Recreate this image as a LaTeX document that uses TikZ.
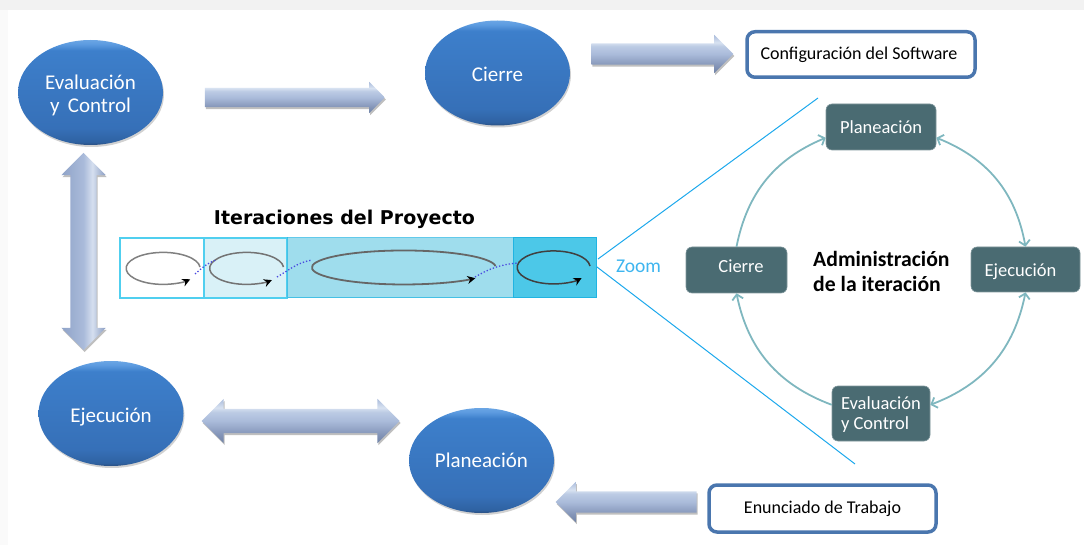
\documentclass[tikz,border=0pt]{standalone}
\usepackage{fontspec}
\setmainfont{Carlito}
\newfontfamily\titlefont{DejaVu Sans}
\usetikzlibrary{shapes.geometric,shapes.arrows,shadows,arrows.meta,calc}
\definecolor{tealbox}{HTML}{4A6B72}
\definecolor{ringc}{HTML}{7FB7BF}
\definecolor{framec}{HTML}{4A76AE}
\definecolor{zoomc}{HTML}{1CA8EC}
\definecolor{dotc}{HTML}{4A4AE0}
\definecolor{stripa}{HTML}{D9F1F7}
\definecolor{stripb}{HTML}{9FDDED}
\definecolor{stripc}{HTML}{4CC8E8}
\definecolor{stripl}{HTML}{50CFEF}
\definecolor{stripd}{HTML}{20B4E2}
\definecolor{ba}{HTML}{2A4F80}
\definecolor{bb}{HTML}{2F62A2}
\definecolor{bc}{HTML}{3670B8}
\definecolor{bd}{HTML}{3D7FCB}
\definecolor{be}{HTML}{5C9BE0}
\definecolor{bf}{HTML}{6AA5E4}
\definecolor{ca}{HTML}{6F82A6}
\definecolor{cb}{HTML}{8495B8}
\definecolor{cc}{HTML}{AABBDA}
\definecolor{cd}{HTML}{BCCBE4}
\definecolor{ce}{HTML}{D8E2F1}
\definecolor{cf}{HTML}{A9BBDB}
\definecolor{da}{HTML}{8FA3C8}
\definecolor{db}{HTML}{D5DFEF}
\definecolor{dc}{HTML}{8A9DC2}
\pgfdeclareverticalshading{ballshade}{100bp}{
 color(0bp)=(ba); color(25bp)=(ba); color(26.5bp)=(bb);
 color(33bp)=(bc); color(70bp)=(bd); color(73bp)=(be);
 color(75bp)=(bf); color(100bp)=(bf)}
\pgfdeclareverticalshading{barshade}{100bp}{
 color(0bp)=(ca); color(25bp)=(ca); color(35bp)=(cb);
 color(50bp)=(cc); color(60bp)=(cd); color(65bp)=(ce);
 color(75bp)=(cf); color(100bp)=(cf)}
\pgfdeclarehorizontalshading{postshade}{100bp}{
 color(0bp)=(da); color(25bp)=(da);
 color(50bp)=(cc); color(60bp)=(db);
 color(75bp)=(dc); color(100bp)=(dc)}
\tikzset{
 ball/.style={ellipse,shading=ballshade,draw=none,inner sep=0pt,
   minimum width=145,minimum height=105,text=white,align=center,
   font=\fontsize{21}{23}\selectfont,
   drop shadow={shadow xshift=1pt,shadow yshift=-2pt,fill=black,opacity=.18}},
 softshadow/.style={drop shadow={shadow xshift=1pt,shadow yshift=-2pt,fill=black,opacity=.25}},
 onearrow/.style={single arrow,draw=none,shading=barshade,inner sep=0pt,text height=#1,text depth=0pt,
   text width=0pt,softshadow},
 twoarrow/.style={double arrow,draw=none,inner sep=0pt,text height=#1,text depth=0pt,
   text width=0pt,softshadow},
 framebox/.style={draw=framec,line width=3.5pt,fill=white,rounded corners=8pt,
   font=\fontsize{18}{21}\selectfont,text=black,inner sep=0pt,
   drop shadow={shadow xshift=0.5pt,shadow yshift=-1.5pt,fill=black,opacity=.2}},
 tealnode/.style={fill=tealbox,draw=tealbox!70!white,line width=.6pt,rounded corners=6pt,text=white,inner sep=0pt,
   font=\fontsize{18.5}{20}\selectfont},
 ringline/.style={draw=ringc,line width=1.8pt},
 loopline/.style={line width=1.5pt},
 looptip/.style={-{Stealth[length=8pt,width=8pt,black]}},
 dotline/.style={draw=dotc,line width=1.3pt,dotted},
 zoomline/.style={draw=zoomc,line width=1pt},
}
\begin{document}
\begin{tikzpicture}[x=1pt,y=-1pt]
\useasboundingbox (0,0) rectangle (1084,545);
% page edge
\fill[black!5] (0,0) rectangle (1084,10);
\fill[black!2] (0,10) rectangle (8,545);
% ellipses
\node[ball] (ev) at (90.5,92.5) {\rule{0pt}{20pt}Evaluación\\y\, Control};
\node[ball] (ci) at (497.5,73) {\rule{0pt}{17pt}Cierre};
\node[ball] (ej) at (111,413.5) {\rule{0pt}{21pt}Ejecución};
\node[ball] (pl) at (481.5,460.5) {Planeación};
% block arrows
\node[onearrow=19pt,minimum height=180pt,minimum width=31pt,single arrow head extend=6pt] (a1) at (290,97.5) {};
\node[onearrow=21pt,minimum height=142pt,minimum width=38pt,single arrow head extend=8.5pt] (a2) at (657,54) {};
\node[onearrow=21pt,minimum height=141pt,minimum width=40pt,single arrow head extend=9.5pt,shape border rotate=180] (a3) at (631.5,502) {};
\node[twoarrow=24pt,shading=barshade,minimum height=198pt,minimum width=44pt,double arrow head extend=10pt] (a4) at (300.5,421) {};
\node[double arrow,draw=none,inner sep=0pt,text width=26pt,text height=0pt,text depth=0pt,softshadow,shading=postshade,minimum height=197pt,minimum width=44pt,double arrow head extend=9pt,shape border rotate=90] (a5) at (83.5,251.5) {};
% frame boxes
\node[framebox,minimum width=228pt,minimum height=45.5pt] (cfg) at (861,54.5) {\hspace*{-4pt}Configuración del Software};
\node[framebox,minimum width=227pt,minimum height=47pt] (enu) at (822.5,508.5) {Enunciado de Trabajo};
% title
\node[font=\titlefont\bfseries\fontsize{19}{22}\selectfont] (tit) at (344.5,219) {Iteraciones del Proyecto};
% strip
\node[fill=white,draw=stripl,line width=1.6pt,minimum width=84pt,minimum height=60pt,inner sep=0pt] (s1) at (162,268) {};
\node[fill=stripa,draw=stripl,line width=1.2pt,minimum width=83pt,minimum height=60pt,inner sep=0pt] (s2) at (245.5,268) {};
\node[fill=stripb,draw=stripd,draw opacity=.7,line width=1pt,minimum width=226pt,minimum height=60pt,inner sep=0pt] (s3) at (400,268) {};
\node[fill=stripc,draw=stripd,line width=1pt,minimum width=83pt,minimum height=60pt,inner sep=0pt] (s4) at (554.5,268) {};
% loops
\draw[loopline,draw=black!50,looptip] (200,267) arc[start angle=5,end angle=317,x radius=37pt,y radius=16pt];
\draw[loopline,draw=black!55,looptip] (283.5,267) arc[start angle=5,end angle=313,x radius=37pt,y radius=16pt];
\draw[loopline,draw=black!60,line width=1.8pt,looptip] (495.5,266) arc[start angle=5,end angle=321,x radius=92pt,y radius=17pt];
\draw[loopline,draw=black!75,looptip] (590,266) arc[start angle=5,end angle=320,x radius=36.5pt,y radius=16.5pt];
% dotted links
\coordinate (d1a) at (195,274); \coordinate (d1b) at (216,260);
\coordinate (d2a) at (277,277); \coordinate (d2b) at (312,260);
\coordinate (d3a) at (475,277); \coordinate (d3b) at (518,263);
\draw[dotline] (d1a) to[out=40,in=200] (d1b);
\draw[dotline] (d2a) to[out=30,in=190] (d2b);
\draw[dotline] (d3a) to[out=30,in=185] (d3b);
% zoom
\node[font=\fontsize{19.5}{22}\selectfont,text=zoomc!85!white] (zm) at (638.5,266) {Zoom};
\coordinate (z0) at (598,259); \coordinate (z1) at (818,98);
\coordinate (z2) at (597,267); \coordinate (z3) at (855,464);
\draw[zoomline] (z0) -- (z1);
\draw[zoomline] (z2) -- (z3);
% cycle
\node[tealnode,minimum width=110pt,minimum height=46pt] (tp) at (881,127) {Planeación};
\node[tealnode,minimum width=101pt,minimum height=46pt] (tc) at (736.5,270) {\hspace*{9pt}\rule[-8pt]{0pt}{8pt}Cierre};
\node[tealnode,minimum width=109pt,minimum height=45pt] (te) at (1025.5,269.5) {\rule{0pt}{17pt}Ejecución\hspace*{10pt}};
\node[tealnode,minimum width=98pt,minimum height=55pt,align=left] (tv) at (881,413.5) {\rule{0pt}{15pt}Evaluación\\y Control};
\draw[ringline,-{Straight Barb[length=5pt,width=11pt]}] (tc.north) to[bend left=28] (tp.191);
\draw[ringline,{Straight Barb[length=5pt,width=11pt]}-{Straight Barb[length=5pt,width=11pt]}] (tp.349) to[bend left=29] (te.north);
\draw[ringline,{Straight Barb[length=5pt,width=11pt]}-{Straight Barb[length=5pt,width=11pt]}] (te.south) to[bend left=29] (tv.10);
\draw[ringline,-{Straight Barb[length=5pt,width=11pt]}] (tv.170) to[bend left=29] (tc.south);
\node[font=\bfseries\fontsize{21.7}{25}\selectfont,align=left,text=black,anchor=west,inner sep=0pt] (adm) at (813,271.5) {Administración\\de la iteración};
\end{tikzpicture}
\end{document}
